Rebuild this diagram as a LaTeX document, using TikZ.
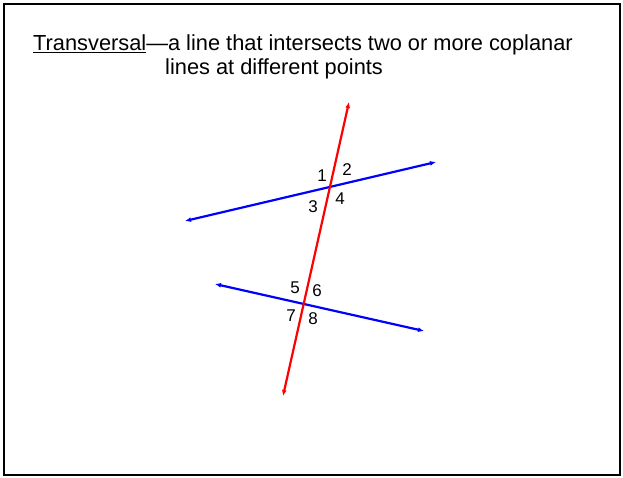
\documentclass[tikz,border=0pt]{standalone}
\usepackage{fontspec}
\setmainfont{Liberation Sans}
\usepackage{xcolor}
\usepackage{tikz}
\usetikzlibrary{arrows.meta}
\tikzset{
    parallel/.style={color=blue, line width=2.2pt, line cap=round,
        {Latex[length=6pt,width=5pt]}-{Latex[length=6pt,width=5pt]}},
    transv/.style={color=red, line width=2.2pt, line cap=round,
        {Latex[length=6pt,width=5pt]}-{Latex[length=6pt,width=5pt]}},
    anglenum/.style={font=\fontsize{17}{17}\selectfont, inner sep=0pt},
    headline/.style={font=\fontsize{21.8}{24}\selectfont, inner sep=0pt, anchor=base west}
}

\begin{document}
\begin{tikzpicture}[x=1pt, y=-1pt]
    \useasboundingbox (0,0) rectangle (623,478);
    \draw[line width=2.5pt] (4,4) rectangle (620,475);
    \node[headline] (def) at (33,51) {\underline{Transversal}—a line that intersects two or more coplanar};
    \node[headline] (defb) at (165,75) {lines at different points};
    % the two lines and the transversal
    \coordinate (P1) at (185,221);
    \coordinate (Q1) at (436,162);
    \coordinate (P2) at (215,284);
    \coordinate (Q2) at (424,331);
    \coordinate (T1) at (283,396);
    \coordinate (T2) at (349,102);
    \draw[parallel] (P1) -- (Q1);
    \draw[parallel] (P2) -- (Q2);
    \draw[transv] (T1) -- (T2);
    \node[anglenum] (a1) at (322,176) {1};
    \node[anglenum] (a2) at (347,170) {2};
    \node[anglenum] (a3) at (313,207) {3};
    \node[anglenum] (a4) at (340,199) {4};
    \node[anglenum] (a5) at (295,288) {5};
    \node[anglenum] (a6) at (317,291) {6};
    \node[anglenum] (a7) at (291,316) {7};
    \node[anglenum] (a8) at (313,319) {8};
\end{tikzpicture}
\end{document}
